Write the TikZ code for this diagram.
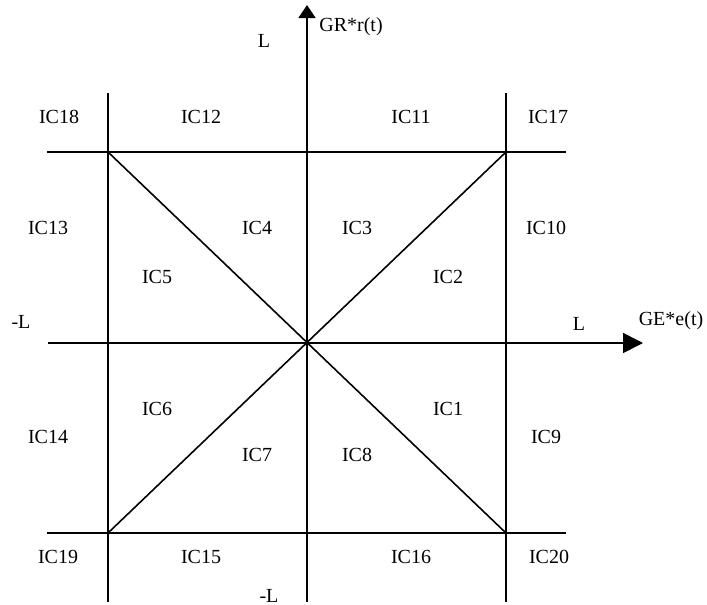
\documentclass[tikz,border=0pt]{standalone}
\usepackage{fontspec}
\setmainfont{Liberation Serif}
\usetikzlibrary{arrows.meta}
\begin{document}
\begin{tikzpicture}[x=1pt,y=-1pt,line width=1.6pt,
  lbl/.style={font=\fontsize{20}{22}\selectfont,inner sep=0pt,anchor=base},
  vaxis/.style={-{Triangle[length=13pt,width=17pt]}},
  haxis/.style={-{Triangle[length=20pt,width=20pt]}}]
\useasboundingbox (0,0) rectangle (707,605);
% key points
\coordinate (O) at (307,343);
\coordinate (TL) at (108,152);
\coordinate (TR) at (506,152);
\coordinate (BL) at (108,533);
\coordinate (BR) at (506,533);
\coordinate (ht1) at (47,152);  \coordinate (ht2) at (566,152);
\coordinate (hb1) at (47,533);  \coordinate (hb2) at (566,533);
\coordinate (vl1) at (108,93);  \coordinate (vl2) at (108,602);
\coordinate (vr1) at (506,93);  \coordinate (vr2) at (506,602);
\coordinate (ya) at (307,602);  \coordinate (yb) at (307,5);
\coordinate (xa) at (48,343);   \coordinate (xb) at (643,343);
% grid
\draw (ht1) -- (ht2);
\draw (hb1) -- (hb2);
\draw (vl1) -- (vl2);
\draw (vr1) -- (vr2);
\draw (TL) -- (BR);
\draw (TR) -- (BL);
\draw[vaxis] (ya) -- (yb);
\draw[haxis] (xa) -- (xb);
\fill (O) circle (2.5pt);
% axis labels
\node[lbl] (Ltop) at (264,47) {L};
\node[lbl] (GR) at (351,31) {GR*r(t)};
\node[lbl] (Lright) at (579,330) {L};
\node[lbl] (GE) at (671,325) {GE*e(t)};
\node[lbl] (Lleft) at (21,328) {-L};
\node[lbl] (Lbot) at (269,602) {-L};
% region labels
\node[lbl] (ic18) at (59,123) {IC18};
\node[lbl] (ic12) at (201,123) {IC12};
\node[lbl] (ic11) at (411,123) {IC11};
\node[lbl] (ic17) at (548,123) {IC17};
\node[lbl] (ic13) at (48,234) {IC13};
\node[lbl] (ic4) at (257,234) {IC4};
\node[lbl] (ic3) at (357,234) {IC3};
\node[lbl] (ic10) at (546,234) {IC10};
\node[lbl] (ic5) at (157,283) {IC5};
\node[lbl] (ic2) at (448,283) {IC2};
\node[lbl] (ic6) at (157,415) {IC6};
\node[lbl] (ic1) at (448,415) {IC1};
\node[lbl] (ic14) at (48,443) {IC14};
\node[lbl] (ic7) at (257,461) {IC7};
\node[lbl] (ic8) at (357,461) {IC8};
\node[lbl] (ic9) at (546,443) {IC9};
\node[lbl] (ic19) at (58,563) {IC19};
\node[lbl] (ic15) at (201,563) {IC15};
\node[lbl] (ic16) at (411,563) {IC16};
\node[lbl] (ic20) at (549,563) {IC20};
\end{tikzpicture}
\end{document}
